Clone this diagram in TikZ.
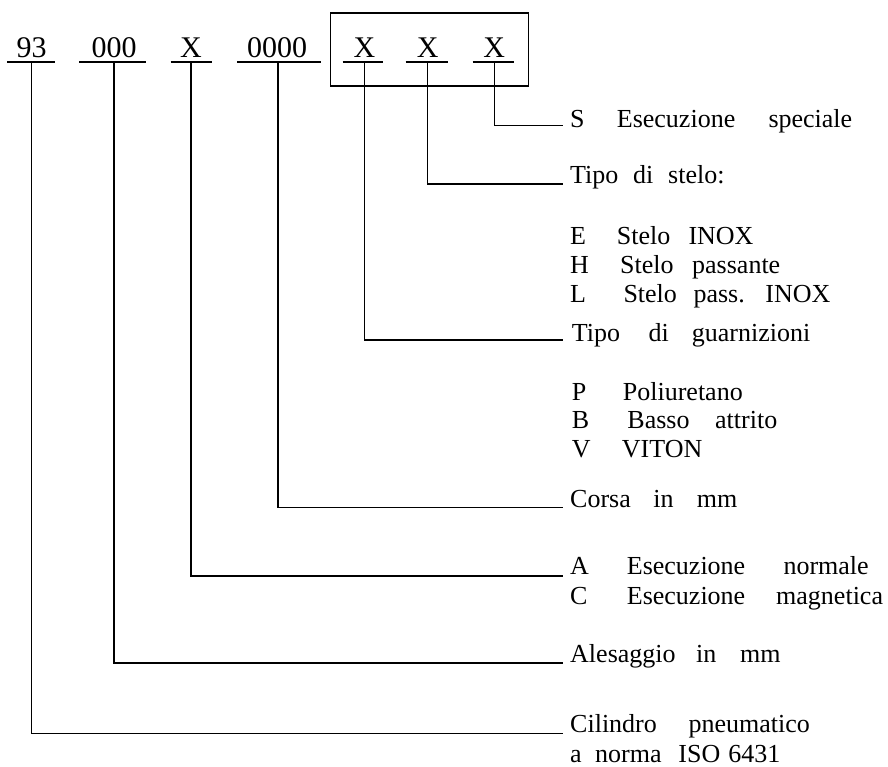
\documentclass[tikz,border=0pt]{standalone}
\usepackage{fontspec}
\setmainfont{Liberation Serif}
\newcommand\wat[2]{\makebox[#1pt][l]{#2}}
\begin{document}
\begin{tikzpicture}[x=1pt,y=-1pt,
  lab/.style={anchor=base west,inner sep=0pt,font=\fontsize{26}{30}\selectfont},
  code/.style={anchor=base,inner sep=0pt,font=\fontsize{30}{36}\selectfont},
  ln/.style={line width=1.05pt,black}]
\useasboundingbox (0,0) rectangle (888,767);
% codes
\node[code] (c1) at (31.7,58) {93};
\node[code] (c2) at (114,58) {000};
\node[code] (c3) at (191,58) {X};
\node[code] (c4) at (277,58) {0000};
\node[code] (c5) at (364.4,58) {X};
\node[code] (c6) at (427.8,58) {X};
\node[code] (c7) at (494.2,58) {X};
% underlines
\draw[ln] (7,62) -- (55,62);
\draw[ln] (79,62) -- (146,62);
\draw[ln] (170.5,62) -- (212,62);
\draw[ln] (237,62) -- (321,62);
\draw[ln] (342.7,62) -- (383,62);
\draw[ln] (405.7,62) -- (447.7,62);
\draw[ln] (472.5,62) -- (514,62);
% box
\draw[ln] (330.6,13) rectangle (528.7,86);
% connector start points
\coordinate (u1) at (31.7,62);
\coordinate (u2) at (114,62);
\coordinate (u3) at (191,62);
\coordinate (u4) at (278,62);
\coordinate (u5) at (364.4,62);
\coordinate (u6) at (427.8,62);
\coordinate (u7) at (494.2,62);
% connector end points
\coordinate (e7) at (563,125.7);
\coordinate (e6) at (563,184);
\coordinate (e5) at (563,340);
\coordinate (e4) at (563,507.5);
\coordinate (e3) at (563,576);
\coordinate (e2) at (563,663);
\coordinate (e1) at (563,733.5);
% labels
\node[lab] (lS) at (570,127.5) {\wat{46.7}{S}\wat{151.6}{Esecuzione}speciale};
\node[lab] (lT) at (570,183.5) {\wat{63}{Tipo}\wat{35}{di}stelo:};
\node[lab] (lE) at (570,244) {\wat{46.7}{E}\wat{71.6}{Stelo}INOX};
\node[lab] (lH) at (570,273.3) {\wat{50}{H}\wat{72}{Stelo}passante};
\node[lab] (lL) at (570,302.7) {\wat{53.3}{L}\wat{70}{Stelo}\wat{72}{pass.}INOX};
\node[lab] (lG) at (571.7,341) {\wat{76.6}{Tipo}\wat{43.4}{di}guarnizioni};
\node[lab] (lP) at (571.7,400) {\wat{51}{P}Poliuretano};
\node[lab] (lB) at (571.7,428.5) {\wat{55.6}{B}\wat{87.7}{Basso}attrito};
\node[lab] (lV) at (571.7,457) {\wat{50}{V}VITON};
\node[lab] (lC) at (570,507) {\wat{83.3}{Corsa}\wat{43.4}{in}mm};
\node[lab] (lA) at (570,574) {\wat{56.7}{A}\wat{156.6}{Esecuzione}normale};
\node[lab] (lM) at (570,604) {\wat{56.7}{C}\wat{149.3}{Esecuzione}magnetica};
\node[lab] (lAl) at (570,662) {\wat{126}{Alesaggio}\wat{44}{in}mm};
\node[lab] (lCi) at (570,732) {\wat{118.3}{Cilindro}pneumatico};
\node[lab] (lCi2) at (570,762) {\wat{25}{a}\wat{83.3}{norma}\wat{50}{ISO}6431};
% connectors
\draw[ln] (u7) |- (e7);
\draw[ln] (u6) |- (e6);
\draw[ln] (u5) |- (e5);
\draw[ln] (u4) |- (e4);
\draw[ln] (u3) |- (e3);
\draw[ln] (u2) |- (e2);
\draw[ln] (u1) |- (e1);
\end{tikzpicture}
\end{document}
